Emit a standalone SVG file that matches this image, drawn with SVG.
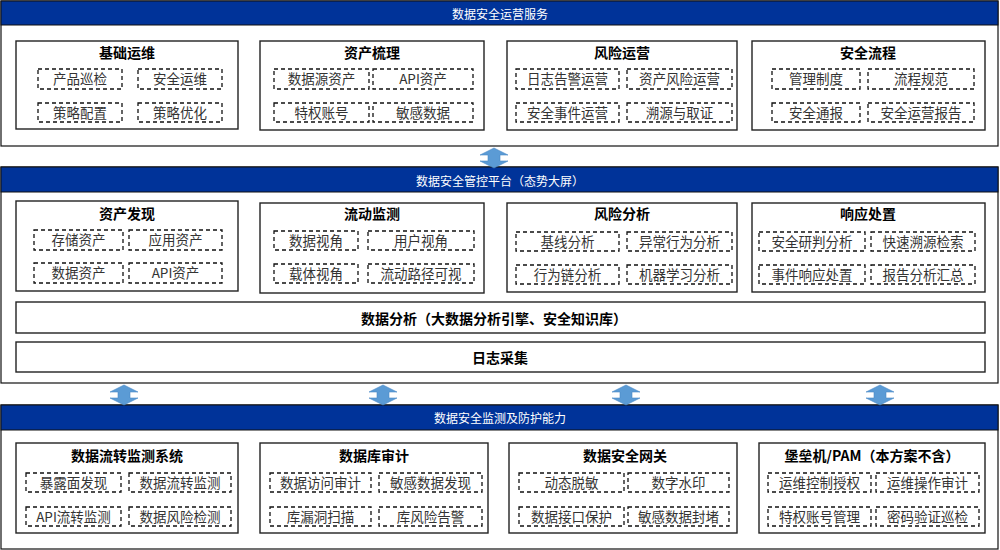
<svg xmlns="http://www.w3.org/2000/svg" xmlns:xlink="http://www.w3.org/1999/xlink" width="1000" height="550" viewBox="0 0 1000 550">
<style>
text{font-family:"Noto Sans CJK SC","Liberation Sans",sans-serif;dominant-baseline:central;text-anchor:middle}
.panel{fill:#fff;stroke:#111;stroke-width:1.2}
.hdr{fill:#003399;stroke:#111;stroke-width:1}
.htxt{fill:#fff;font-size:12px}
.box{fill:#fff;stroke:#222;stroke-width:1.4}
.ttl{fill:#000;font-size:14px;font-weight:bold}
.dash{fill:#fff;stroke:#111;stroke-width:1.3;stroke-dasharray:4 3}
.item{fill:#333;font-size:13.5px}
.arr{fill:#5B9BD5;stroke:#4A89C8;stroke-width:0.6}
</style>
<defs>
<path id="darr" d="M0,0 L14,7 L6,7 L6,13 L14,13 L0,20 L-14,13 L-6,13 L-6,7 L-14,7 Z"/>
</defs>

<!-- Top panel -->
<g id="panel-ops">
<rect class="panel" x="1" y="1" width="997" height="145"/>
<rect class="hdr" x="1" y="1" width="997" height="24"/>
<text class="htxt" x="500" y="13">数据安全运营服务</text>
</g>
<g id="node-jcyw">
<rect class="box" x="16" y="41" width="222" height="88"/>
<text class="ttl" x="127" y="52">基础运维</text>
<rect class="dash" x="38" y="69" width="84" height="20"/><text class="item" x="80" y="78">产品巡检</text>
<rect class="dash" x="138" y="69" width="84" height="20"/><text class="item" x="180" y="78">安全运维</text>
<rect class="dash" x="38" y="103" width="84" height="19"/><text class="item" x="80" y="111.5">策略配置</text>
<rect class="dash" x="138" y="103" width="84" height="19"/><text class="item" x="180" y="111.5">策略优化</text>
</g>
<g id="node-zcsl">
<rect class="box" x="260" y="41" width="224" height="89"/>
<text class="ttl" x="372" y="52">资产梳理</text>
<rect class="dash" x="274" y="69" width="95" height="20"/><text class="item" x="321.5" y="78">数据源资产</text>
<rect class="dash" x="373" y="69" width="100" height="20"/><text class="item" x="423" y="78">API资产</text>
<rect class="dash" x="274" y="103" width="95" height="19"/><text class="item" x="321.5" y="111.5">特权账号</text>
<rect class="dash" x="373" y="103" width="100" height="19"/><text class="item" x="423" y="111.5">敏感数据</text>
</g>
<g id="node-fxyy">
<rect class="box" x="507" y="41" width="230" height="89"/>
<text class="ttl" x="622" y="52">风险运营</text>
<rect class="dash" x="516" y="69" width="103" height="20"/><text class="item" x="567.5" y="78">日志告警运营</text>
<rect class="dash" x="627" y="69" width="105" height="20"/><text class="item" x="679.5" y="78">资产风险运营</text>
<rect class="dash" x="516" y="103" width="103" height="19"/><text class="item" x="567.5" y="111.5">安全事件运营</text>
<rect class="dash" x="627" y="103" width="105" height="19"/><text class="item" x="679.5" y="111.5">溯源与取证</text>
</g>
<g id="node-aqlc">
<rect class="box" x="752" y="41" width="233" height="89"/>
<text class="ttl" x="868" y="52">安全流程</text>
<rect class="dash" x="772" y="69" width="88" height="20"/><text class="item" x="816" y="78">管理制度</text>
<rect class="dash" x="868" y="69" width="106" height="20"/><text class="item" x="921" y="78">流程规范</text>
<rect class="dash" x="772" y="103" width="88" height="19"/><text class="item" x="816" y="111.5">安全通报</text>
<rect class="dash" x="868" y="103" width="106" height="19"/><text class="item" x="921" y="111.5">安全运营报告</text>
</g>

<!-- Middle panel -->
<g id="panel-platform">
<rect class="panel" x="1" y="167" width="997" height="216"/>
<rect class="hdr" x="1" y="167" width="997" height="25"/>
<text class="htxt" x="500" y="180">数据安全管控平台（态势大屏）</text>
</g>
<g id="node-zcfx">
<rect class="box" x="16" y="201" width="222" height="90"/>
<text class="ttl" x="127" y="213">资产发现</text>
<rect class="dash" x="34" y="230" width="89" height="20"/><text class="item" x="78.5" y="239">存储资产</text>
<rect class="dash" x="129" y="230" width="93" height="20"/><text class="item" x="175.5" y="239">应用资产</text>
<rect class="dash" x="34" y="263" width="89" height="20"/><text class="item" x="78.5" y="272">数据资产</text>
<rect class="dash" x="129" y="263" width="93" height="20"/><text class="item" x="175.5" y="272">API资产</text>
</g>
<g id="node-ldjc">
<rect class="box" x="260" y="203" width="224" height="90"/>
<text class="ttl" x="372" y="213">流动监测</text>
<rect class="dash" x="274" y="231" width="84" height="19"/><text class="item" x="316" y="239.5">数据视角</text>
<rect class="dash" x="368" y="231" width="106" height="19"/><text class="item" x="421" y="239.5">用户视角</text>
<rect class="dash" x="274" y="264" width="84" height="19"/><text class="item" x="316" y="272.5">载体视角</text>
<rect class="dash" x="368" y="264" width="106" height="19"/><text class="item" x="421" y="272.5">流动路径可视</text>
</g>
<g id="node-fxfx">
<rect class="box" x="507" y="203" width="230" height="89"/>
<text class="ttl" x="622" y="213">风险分析</text>
<rect class="dash" x="516" y="232" width="103" height="19"/><text class="item" x="567.5" y="240.5">基线分析</text>
<rect class="dash" x="627" y="232" width="105" height="19"/><text class="item" x="679.5" y="240.5">异常行为分析</text>
<rect class="dash" x="516" y="265" width="103" height="19"/><text class="item" x="567.5" y="273.5">行为链分析</text>
<rect class="dash" x="627" y="265" width="105" height="19"/><text class="item" x="679.5" y="273.5">机器学习分析</text>
</g>
<g id="node-xycz">
<rect class="box" x="752" y="203" width="233" height="89"/>
<text class="ttl" x="868" y="213">响应处置</text>
<rect class="dash" x="759" y="232" width="106" height="19"/><text class="item" x="812" y="240.5">安全研判分析</text>
<rect class="dash" x="871" y="232" width="104" height="19"/><text class="item" x="923" y="240.5">快速溯源检索</text>
<rect class="dash" x="759" y="265" width="106" height="19"/><text class="item" x="812" y="273.5">事件响应处置</text>
<rect class="dash" x="871" y="265" width="104" height="19"/><text class="item" x="923" y="273.5">报告分析汇总</text>
</g>
<g id="node-sjfx">
<rect class="box" x="16" y="302" width="969" height="31"/>
<text class="ttl" x="494" y="318">数据分析（大数据分析引擎、安全知识库）</text>
</g>
<g id="node-rzcj">
<rect class="box" x="16" y="342" width="969" height="30"/>
<text class="ttl" x="500" y="357">日志采集</text>
</g>

<!-- Bottom panel -->
<g id="panel-monitor">
<rect class="panel" x="1" y="405" width="997" height="144"/>
<rect class="hdr" x="1" y="405" width="997" height="25"/>
<text class="htxt" x="500" y="417">数据安全监测及防护能力</text>
</g>
<g id="node-sjlz">
<rect class="box" x="16" y="443" width="222" height="90"/>
<text class="ttl" x="127" y="455">数据流转监测系统</text>
<rect class="dash" x="26" y="473" width="95" height="19"/><text class="item" x="73.5" y="481.5">暴露面发现</text>
<rect class="dash" x="129" y="473" width="102" height="19"/><text class="item" x="180" y="481.5">数据流转监测</text>
<rect class="dash" x="26" y="507" width="95" height="19"/><text class="item" x="73.5" y="515.5">API流转监测</text>
<rect class="dash" x="129" y="507" width="102" height="19"/><text class="item" x="180" y="515.5">数据风险检测</text>
</g>
<g id="node-sjksj">
<rect class="box" x="260" y="443" width="228" height="90"/>
<text class="ttl" x="374" y="455">数据库审计</text>
<rect class="dash" x="270" y="473" width="101" height="19"/><text class="item" x="320.5" y="481.5">数据访问审计</text>
<rect class="dash" x="379" y="473" width="103" height="19"/><text class="item" x="430.5" y="481.5">敏感数据发现</text>
<rect class="dash" x="270" y="507" width="101" height="19"/><text class="item" x="320.5" y="515.5">库漏洞扫描</text>
<rect class="dash" x="379" y="507" width="103" height="19"/><text class="item" x="430.5" y="515.5">库风险告警</text>
</g>
<g id="node-aqwg">
<rect class="box" x="509" y="443" width="228" height="90"/>
<text class="ttl" x="625" y="455">数据安全网关</text>
<rect class="dash" x="519" y="473" width="105" height="19"/><text class="item" x="571.5" y="481.5">动态脱敏</text>
<rect class="dash" x="628" y="473" width="101" height="19"/><text class="item" x="678.5" y="481.5">数字水印</text>
<rect class="dash" x="519" y="507" width="105" height="19"/><text class="item" x="571.5" y="515.5">数据接口保护</text>
<rect class="dash" x="628" y="507" width="101" height="19"/><text class="item" x="678.5" y="515.5">敏感数据封堵</text>
</g>
<g id="node-blj">
<rect class="box" x="759" y="443" width="226" height="90"/>
<text class="ttl" x="872" y="455">堡垒机/PAM（本方案不含）</text>
<rect class="dash" x="768" y="473" width="103" height="19"/><text class="item" x="819.5" y="481.5">运维控制授权</text>
<rect class="dash" x="876" y="473" width="103" height="19"/><text class="item" x="927.5" y="481.5">运维操作审计</text>
<rect class="dash" x="768" y="507" width="103" height="19"/><text class="item" x="819.5" y="515.5">特权账号管理</text>
<rect class="dash" x="876" y="507" width="103" height="19"/><text class="item" x="927.5" y="515.5">密码验证巡检</text>
</g>

<!-- Connectors -->
<g id="connectors" class="arr">
<use xlink:href="#darr" href="#darr" x="494" y="148"/>
<use xlink:href="#darr" href="#darr" x="124" y="385"/>
<use xlink:href="#darr" href="#darr" x="383" y="385"/>
<use xlink:href="#darr" href="#darr" x="626" y="385"/>
<use xlink:href="#darr" href="#darr" x="880" y="385"/>
</g>
</svg>
